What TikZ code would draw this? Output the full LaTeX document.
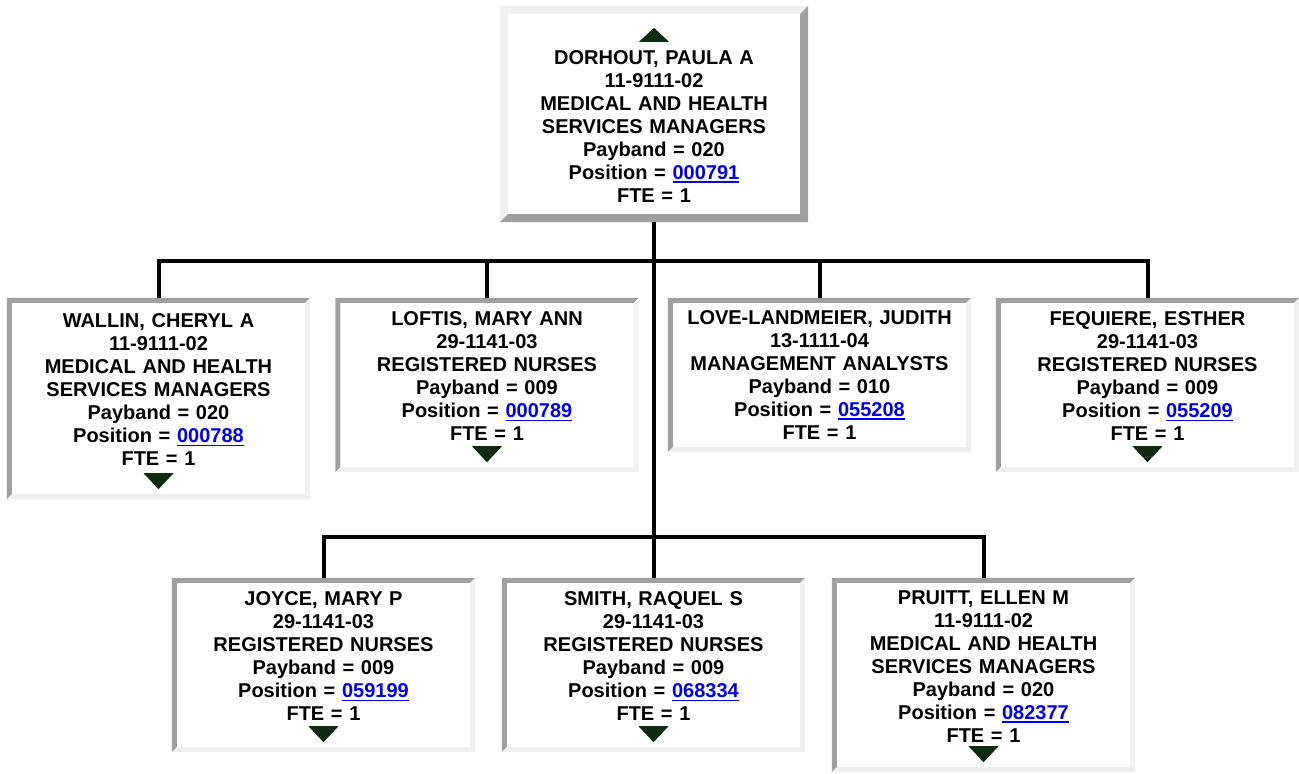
\documentclass[tikz,border=0pt]{standalone}
\usepackage{fontspec}
\setmainfont{Liberation Sans}
\usepackage{tikz}
\usetikzlibrary{positioning,calc}
\definecolor{OrgInk}{HTML}{000000}
\definecolor{OrgLink}{HTML}{0000EE}
\definecolor{OrgTri}{HTML}{0F2A12}
\definecolor{OrgDark}{HTML}{A0A0A0}
\definecolor{OrgLight}{HTML}{F0F0F0}
\newcommand{\poslink}[1]{\textcolor{OrgLink}{\setbox0=\hbox{#1}\rlap{\rule[-3.5pt]{\wd0}{1.8pt}}\box0}}

\begin{document}
\begin{tikzpicture}[
    x=1pt, y=1pt,
    card/.style={
      fill=white,
      text width=300pt,
      inner xsep=1.5pt,
      inner ysep=0pt,
      minimum height=#1,
      align=center,
      text=OrgInk,
      font=\fontsize{20pt}{23pt}\selectfont\bfseries
    },
    wire/.style={
      draw=black,
      line width=4pt
    },
    tri/.style={
      fill=OrgTri
    }
  ]
  \useasboundingbox (0,0) rectangle (1299,-774);

  % head
  \node[card=216pt, text width=305pt] (dorhout) at (654,-114) {
    \rule{0pt}{16pt}\\
    DORHOUT, PAULA A\\
    11-9111-02\\
    MEDICAL AND HEALTH\\
    SERVICES MANAGERS\\
    Payband = 020\\
    Position = \poslink{000791}\\
    FTE = 1
  };

  % first row
  \node[card=201pt] (wallin) at (158.5,-398.5) {
    WALLIN, CHERYL A\\
    11-9111-02\\
    MEDICAL AND HEALTH\\
    SERVICES MANAGERS\\
    Payband = 020\\
    Position = \poslink{000788}\\
    FTE = 1\\[-6pt] \mbox{}
  };
  \node[card=174pt] (loftis) at (487,-385) {
    LOFTIS, MARY ANN\\
    29-1141-03\\
    REGISTERED NURSES\\
    Payband = 009\\
    Position = \poslink{000789}\\
    FTE = 1\\[-6pt] \mbox{}
  };
  \node[card=154pt] (love) at (819.5,-375) {
    LOVE-LANDMEIER, JUDITH\\
    13-1111-04\\
    MANAGEMENT ANALYSTS\\
    Payband = 010\\
    Position = \poslink{055208}\\
    FTE = 1
  };
  \node[card=174pt] (fequiere) at (1147.5,-385) {
    FEQUIERE, ESTHER\\
    29-1141-03\\
    REGISTERED NURSES\\
    Payband = 009\\
    Position = \poslink{055209}\\
    FTE = 1\\[-6pt] \mbox{}
  };

  % second row
  \node[card=174pt] (joyce) at (323.5,-665) {
    JOYCE, MARY P\\
    29-1141-03\\
    REGISTERED NURSES\\
    Payband = 009\\
    Position = \poslink{059199}\\
    FTE = 1\\[-6pt] \mbox{}
  };
  \node[card=174pt] (smith) at (653.5,-665) {
    SMITH, RAQUEL S\\
    29-1141-03\\
    REGISTERED NURSES\\
    Payband = 009\\
    Position = \poslink{068334}\\
    FTE = 1\\[-6pt] \mbox{}
  };
  \node[card=194pt] (pruitt) at (983.5,-675) {
    PRUITT, ELLEN M\\
    11-9111-02\\
    MEDICAL AND HEALTH\\
    SERVICES MANAGERS\\
    Payband = 020\\
    Position = \poslink{082377}\\
    FTE = 1\\[-6pt] \mbox{}
  };

  % raised border of the head
  \fill[OrgLight] (dorhout.south west) -- (dorhout.north west) -- (dorhout.north east)
    -- ([shift={(-8,-8)}]dorhout.north east) -- ([shift={(8,-8)}]dorhout.north west)
    -- ([shift={(8,8)}]dorhout.south west) -- cycle;
  \fill[OrgDark] (dorhout.south west) -- (dorhout.south east) -- (dorhout.north east)
    -- ([shift={(-8,-8)}]dorhout.north east) -- ([shift={(-8,8)}]dorhout.south east)
    -- ([shift={(8,8)}]dorhout.south west) -- cycle;
  \fill[tri] ([shift={(-15,-36)}]dorhout.north) -- ([shift={(15,-36)}]dorhout.north)
    -- ([shift={(0,-22)}]dorhout.north) -- cycle;

  % sunken borders of the staff
  \foreach \n in {wallin,loftis,love,fequiere,joyce,smith,pruitt}{
    \fill[OrgDark] (\n.south west) -- (\n.north west) -- (\n.north east)
      -- ([shift={(-5,-5)}]\n.north east) -- ([shift={(5,-5)}]\n.north west)
      -- ([shift={(5,5)}]\n.south west) -- cycle;
    \fill[OrgLight] (\n.south west) -- (\n.south east) -- (\n.north east)
      -- ([shift={(-5,-5)}]\n.north east) -- ([shift={(-5,5)}]\n.south east)
      -- ([shift={(5,5)}]\n.south west) -- cycle;
  }
  \foreach \n in {wallin,loftis,fequiere,joyce,smith,pruitt}
    \fill[tri] ([shift={(-15,26)}]\n.south) -- ([shift={(15,26)}]\n.south)
      -- ([shift={(0,10)}]\n.south) -- cycle;

  % connectors
  \coordinate (busA) at (654,-261);
  \coordinate (busB) at (654,-537);
  \draw[wire] (dorhout.south) -- (busB);
  \foreach \n in {wallin,loftis,love,fequiere}
    \draw[wire] (busA) -| (\n.north);
  \foreach \n in {joyce,smith,pruitt}
    \draw[wire] (busB) -| (\n.north);

\end{tikzpicture}
\end{document}
